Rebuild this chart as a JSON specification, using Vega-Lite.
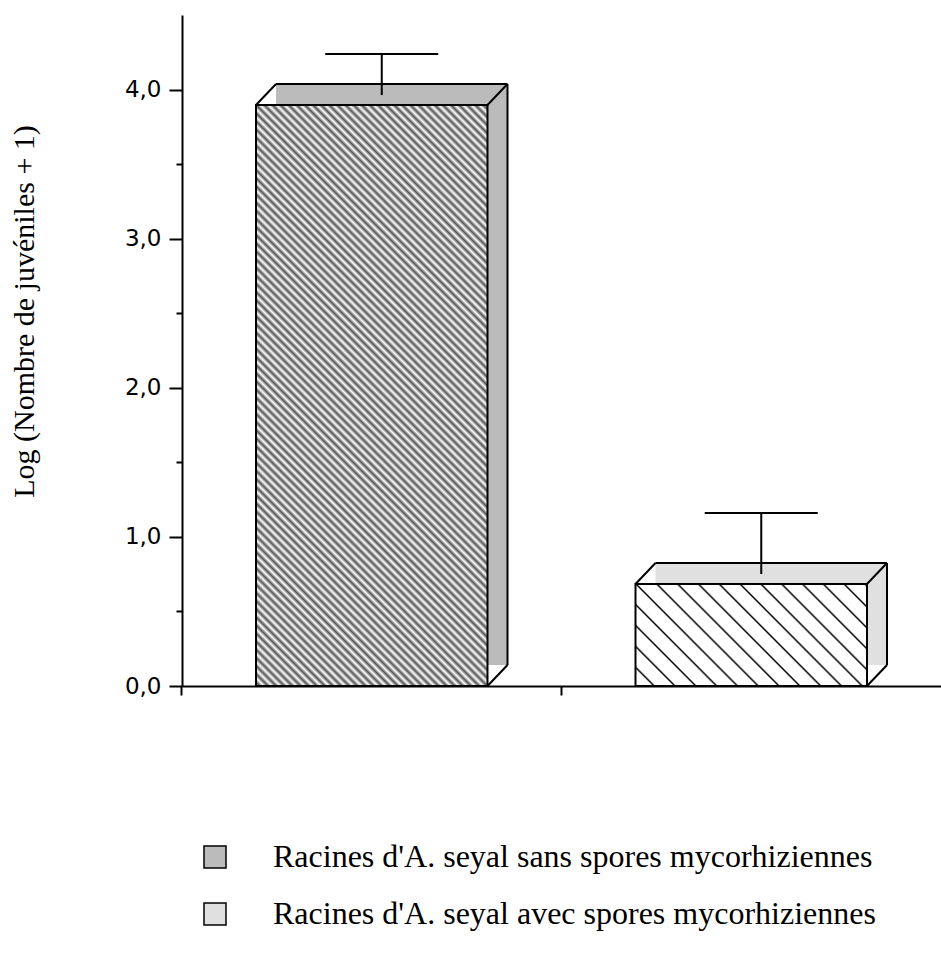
{
"$schema": "https://vega.github.io/schema/vega-lite/v6.json",
"width": 759, "height": 671,
"autosize": {"type": "none"},
"padding": {"left": 182, "top": 15, "right": 0, "bottom": 274},
"background": "white",
"data": {"values": [
 {"g": "sans", "legende": "Racines d'A. seyal sans  spores mycorhiziennes", "moyenne": 3.896, "sup": 4.171},
 {"g": "avec", "legende": "Racines d'A. seyal avec  spores mycorhiziennes", "moyenne": 0.684, "sup": 1.093}
]},
"encoding": {
 "x": {"field": "g", "type": "nominal", "title": null, "scale": {"domain": ["sans", "avec"], "paddingInner": 0.39, "paddingOuter": 0.195}},
 "y": {"field": "moyenne", "type": "quantitative", "scale": {"domain": [0, 4.5], "nice": false},
  "axis": {"title": "Log (Nombre de juvéniles + 1)", "values": [0, 0.5, 1, 1.5, 2, 2.5, 3, 3.5, 4],
   "labelExpr": "datum.value % 1 === 0 ? replace(format(datum.value, '.1f'), '.', ',') : ''",
   "tickSize": {"condition": {"test": "datum.value % 1 === 0", "value": 13}, "value": 6},
   "labelPadding": 8, "labelFont": "DejaVu Sans", "labelFontSize": 23, "labelColor": "black",
   "domainColor": "black", "domainWidth": 2, "tickColor": "black", "tickWidth": 2, "grid": false,
   "titleFont": "Liberation Serif", "titleFontSize": 30, "titleFontWeight": "normal", "titleColor": "black",
   "titleX": -158, "titleY": 296, "titleAngle": -90, "titleAlign": "center", "titleBaseline": "middle"}}
},
"layer": [
 {"mark": {"type": "bar", "xOffset": 20, "x2Offset": 20, "yOffset": -21, "y2Offset": -21},
  "encoding": {"fill": {"field": "legende", "type": "nominal",
   "scale": {"domain": ["Racines d'A. seyal sans  spores mycorhiziennes", "Racines d'A. seyal avec  spores mycorhiziennes"], "range": ["#bbbbbb", "#e0e0e0"]},
   "legend": {"orient": "none", "legendX": 17, "legendY": 826, "title": null, "symbolType": "square", "symbolSize": 484,
    "symbolStrokeColor": "black", "symbolStrokeWidth": 1.5, "labelFont": "Liberation Serif", "labelFontSize": 32,
    "labelColor": "black", "labelLimit": 900, "labelOffset": 42, "rowPadding": 25, "padding": 0}}}},
 {"mark": {"type": "rule", "xOffset": 20, "x2Offset": 20, "yOffset": -21, "color": "black", "strokeWidth": 2},
  "encoding": {"x": {"field": "g", "type": "nominal", "title": null, "bandPosition": 0}, "x2": {"field": "g", "bandPosition": 1}}},
 {"mark": {"type": "rule", "xOffset": 20, "yOffset": -21, "y2Offset": -21, "color": "black", "strokeWidth": 2},
  "encoding": {"x": {"field": "g", "type": "nominal", "title": null, "bandPosition": 1}, "y2": {"datum": 0}}},
 {"mark": {"type": "rule", "x2Offset": 20, "y2Offset": -21, "color": "black", "strokeWidth": 2},
  "encoding": {"x": {"field": "g", "type": "nominal", "title": null, "bandPosition": 1}, "x2": {"field": "g", "bandPosition": 1}, "y2": {"field": "moyenne"}}},
 {"mark": {"type": "rule", "x2Offset": 20, "y2Offset": -21, "color": "black", "strokeWidth": 2},
  "encoding": {"x": {"field": "g", "type": "nominal", "title": null, "bandPosition": 1}, "x2": {"field": "g", "bandPosition": 1}, "y": {"datum": 0}, "y2": {"datum": 0}}},
 {"transform": [{"filter": "datum.g === 'sans'"}],
  "mark": {"type": "bar", "stroke": "black", "strokeWidth": 2,
   "fill": {"gradient": "linear", "x1": 0, "y1": 1, "x2": 0.4817, "y2": -0.2069, "stops": [
{"offset":0,"color":"#fff"},{"offset":0.005,"color":"#555"},{"offset":0.01,"color":"#fff"},{"offset":0.015,"color":"#555"},{"offset":0.02,"color":"#fff"},{"offset":0.025,"color":"#555"},{"offset":0.03,"color":"#fff"},{"offset":0.035,"color":"#555"},{"offset":0.04,"color":"#fff"},{"offset":0.045,"color":"#555"},
{"offset":0.05,"color":"#fff"},{"offset":0.055,"color":"#555"},{"offset":0.06,"color":"#fff"},{"offset":0.065,"color":"#555"},{"offset":0.07,"color":"#fff"},{"offset":0.075,"color":"#555"},{"offset":0.08,"color":"#fff"},{"offset":0.085,"color":"#555"},{"offset":0.09,"color":"#fff"},{"offset":0.095,"color":"#555"},
{"offset":0.1,"color":"#fff"},{"offset":0.105,"color":"#555"},{"offset":0.11,"color":"#fff"},{"offset":0.115,"color":"#555"},{"offset":0.12,"color":"#fff"},{"offset":0.125,"color":"#555"},{"offset":0.13,"color":"#fff"},{"offset":0.135,"color":"#555"},{"offset":0.14,"color":"#fff"},{"offset":0.145,"color":"#555"},
{"offset":0.15,"color":"#fff"},{"offset":0.155,"color":"#555"},{"offset":0.16,"color":"#fff"},{"offset":0.165,"color":"#555"},{"offset":0.17,"color":"#fff"},{"offset":0.175,"color":"#555"},{"offset":0.18,"color":"#fff"},{"offset":0.185,"color":"#555"},{"offset":0.19,"color":"#fff"},{"offset":0.195,"color":"#555"},
{"offset":0.2,"color":"#fff"},{"offset":0.205,"color":"#555"},{"offset":0.21,"color":"#fff"},{"offset":0.215,"color":"#555"},{"offset":0.22,"color":"#fff"},{"offset":0.225,"color":"#555"},{"offset":0.23,"color":"#fff"},{"offset":0.235,"color":"#555"},{"offset":0.24,"color":"#fff"},{"offset":0.245,"color":"#555"},
{"offset":0.25,"color":"#fff"},{"offset":0.255,"color":"#555"},{"offset":0.26,"color":"#fff"},{"offset":0.265,"color":"#555"},{"offset":0.27,"color":"#fff"},{"offset":0.275,"color":"#555"},{"offset":0.28,"color":"#fff"},{"offset":0.285,"color":"#555"},{"offset":0.29,"color":"#fff"},{"offset":0.295,"color":"#555"},
{"offset":0.3,"color":"#fff"},{"offset":0.305,"color":"#555"},{"offset":0.31,"color":"#fff"},{"offset":0.315,"color":"#555"},{"offset":0.32,"color":"#fff"},{"offset":0.325,"color":"#555"},{"offset":0.33,"color":"#fff"},{"offset":0.335,"color":"#555"},{"offset":0.34,"color":"#fff"},{"offset":0.345,"color":"#555"},
{"offset":0.35,"color":"#fff"},{"offset":0.355,"color":"#555"},{"offset":0.36,"color":"#fff"},{"offset":0.365,"color":"#555"},{"offset":0.37,"color":"#fff"},{"offset":0.375,"color":"#555"},{"offset":0.38,"color":"#fff"},{"offset":0.385,"color":"#555"},{"offset":0.39,"color":"#fff"},{"offset":0.395,"color":"#555"},
{"offset":0.4,"color":"#fff"},{"offset":0.405,"color":"#555"},{"offset":0.41,"color":"#fff"},{"offset":0.415,"color":"#555"},{"offset":0.42,"color":"#fff"},{"offset":0.425,"color":"#555"},{"offset":0.43,"color":"#fff"},{"offset":0.435,"color":"#555"},{"offset":0.44,"color":"#fff"},{"offset":0.445,"color":"#555"},
{"offset":0.45,"color":"#fff"},{"offset":0.455,"color":"#555"},{"offset":0.46,"color":"#fff"},{"offset":0.465,"color":"#555"},{"offset":0.47,"color":"#fff"},{"offset":0.475,"color":"#555"},{"offset":0.48,"color":"#fff"},{"offset":0.485,"color":"#555"},{"offset":0.49,"color":"#fff"},{"offset":0.495,"color":"#555"},
{"offset":0.5,"color":"#fff"},{"offset":0.505,"color":"#555"},{"offset":0.51,"color":"#fff"},{"offset":0.515,"color":"#555"},{"offset":0.52,"color":"#fff"},{"offset":0.525,"color":"#555"},{"offset":0.53,"color":"#fff"},{"offset":0.535,"color":"#555"},{"offset":0.54,"color":"#fff"},{"offset":0.545,"color":"#555"},
{"offset":0.55,"color":"#fff"},{"offset":0.555,"color":"#555"},{"offset":0.56,"color":"#fff"},{"offset":0.565,"color":"#555"},{"offset":0.57,"color":"#fff"},{"offset":0.575,"color":"#555"},{"offset":0.58,"color":"#fff"},{"offset":0.585,"color":"#555"},{"offset":0.59,"color":"#fff"},{"offset":0.595,"color":"#555"},
{"offset":0.6,"color":"#fff"},{"offset":0.605,"color":"#555"},{"offset":0.61,"color":"#fff"},{"offset":0.615,"color":"#555"},{"offset":0.62,"color":"#fff"},{"offset":0.625,"color":"#555"},{"offset":0.63,"color":"#fff"},{"offset":0.635,"color":"#555"},{"offset":0.64,"color":"#fff"},{"offset":0.645,"color":"#555"},
{"offset":0.65,"color":"#fff"},{"offset":0.655,"color":"#555"},{"offset":0.66,"color":"#fff"},{"offset":0.665,"color":"#555"},{"offset":0.67,"color":"#fff"},{"offset":0.675,"color":"#555"},{"offset":0.68,"color":"#fff"},{"offset":0.685,"color":"#555"},{"offset":0.69,"color":"#fff"},{"offset":0.695,"color":"#555"},
{"offset":0.7,"color":"#fff"},{"offset":0.705,"color":"#555"},{"offset":0.71,"color":"#fff"},{"offset":0.715,"color":"#555"},{"offset":0.72,"color":"#fff"},{"offset":0.725,"color":"#555"},{"offset":0.73,"color":"#fff"},{"offset":0.735,"color":"#555"},{"offset":0.74,"color":"#fff"},{"offset":0.745,"color":"#555"},
{"offset":0.75,"color":"#fff"},{"offset":0.755,"color":"#555"},{"offset":0.76,"color":"#fff"},{"offset":0.765,"color":"#555"},{"offset":0.77,"color":"#fff"},{"offset":0.775,"color":"#555"},{"offset":0.78,"color":"#fff"},{"offset":0.785,"color":"#555"},{"offset":0.79,"color":"#fff"},{"offset":0.795,"color":"#555"},
{"offset":0.8,"color":"#fff"},{"offset":0.805,"color":"#555"},{"offset":0.81,"color":"#fff"},{"offset":0.815,"color":"#555"},{"offset":0.82,"color":"#fff"},{"offset":0.825,"color":"#555"},{"offset":0.83,"color":"#fff"},{"offset":0.835,"color":"#555"},{"offset":0.84,"color":"#fff"},{"offset":0.845,"color":"#555"},
{"offset":0.85,"color":"#fff"},{"offset":0.855,"color":"#555"},{"offset":0.86,"color":"#fff"},{"offset":0.865,"color":"#555"},{"offset":0.87,"color":"#fff"},{"offset":0.875,"color":"#555"},{"offset":0.88,"color":"#fff"},{"offset":0.885,"color":"#555"},{"offset":0.89,"color":"#fff"},{"offset":0.895,"color":"#555"},
{"offset":0.9,"color":"#fff"},{"offset":0.905,"color":"#555"},{"offset":0.91,"color":"#fff"},{"offset":0.915,"color":"#555"},{"offset":0.92,"color":"#fff"},{"offset":0.925,"color":"#555"},{"offset":0.93,"color":"#fff"},{"offset":0.935,"color":"#555"},{"offset":0.94,"color":"#fff"},{"offset":0.945,"color":"#555"},
{"offset":0.95,"color":"#fff"},{"offset":0.955,"color":"#555"},{"offset":0.96,"color":"#fff"},{"offset":0.965,"color":"#555"},{"offset":0.97,"color":"#fff"},{"offset":0.975,"color":"#555"},{"offset":0.98,"color":"#fff"},{"offset":0.985,"color":"#555"},{"offset":0.99,"color":"#fff"},{"offset":0.995,"color":"#555"},
{"offset":1,"color":"#fff"}]}}},
 {"transform": [{"filter": "datum.g === 'avec'"}],
  "mark": {"type": "bar", "stroke": "black", "strokeWidth": 2,
   "fill": {"gradient": "linear", "x1": 0, "y1": 1, "x2": 1.2065, "y2": 0.4715, "stops": [
{"offset":0,"color":"#fff"},{"offset":0.05,"color":"#fff"},{"offset":0.05625,"color":"#000"},
{"offset":0.0625,"color":"#fff"},{"offset":0.1125,"color":"#fff"},{"offset":0.11875,"color":"#000"},
{"offset":0.125,"color":"#fff"},{"offset":0.175,"color":"#fff"},{"offset":0.18125,"color":"#000"},
{"offset":0.1875,"color":"#fff"},{"offset":0.2375,"color":"#fff"},{"offset":0.24375,"color":"#000"},
{"offset":0.25,"color":"#fff"},{"offset":0.3,"color":"#fff"},{"offset":0.30625,"color":"#000"},
{"offset":0.3125,"color":"#fff"},{"offset":0.3625,"color":"#fff"},{"offset":0.36875,"color":"#000"},
{"offset":0.375,"color":"#fff"},{"offset":0.425,"color":"#fff"},{"offset":0.43125,"color":"#000"},
{"offset":0.4375,"color":"#fff"},{"offset":0.4875,"color":"#fff"},{"offset":0.49375,"color":"#000"},
{"offset":0.5,"color":"#fff"},{"offset":0.55,"color":"#fff"},{"offset":0.55625,"color":"#000"},
{"offset":0.5625,"color":"#fff"},{"offset":0.6125,"color":"#fff"},{"offset":0.61875,"color":"#000"},
{"offset":0.625,"color":"#fff"},{"offset":0.675,"color":"#fff"},{"offset":0.68125,"color":"#000"},
{"offset":0.6875,"color":"#fff"},{"offset":0.7375,"color":"#fff"},{"offset":0.74375,"color":"#000"},
{"offset":0.75,"color":"#fff"},{"offset":0.8,"color":"#fff"},{"offset":0.80625,"color":"#000"},
{"offset":0.8125,"color":"#fff"},{"offset":0.8625,"color":"#fff"},{"offset":0.86875,"color":"#000"},
{"offset":0.875,"color":"#fff"},{"offset":0.925,"color":"#fff"},{"offset":0.93125,"color":"#000"},
{"offset":0.9375,"color":"#fff"},{"offset":0.9875,"color":"#fff"},{"offset":0.99375,"color":"#000"},
{"offset":1,"color":"#fff"}]}}},
 {"mark": {"type": "rule", "x2Offset": 20, "y2Offset": -21, "color": "black", "strokeWidth": 2},
  "encoding": {"x": {"field": "g", "type": "nominal", "title": null, "bandPosition": 0}, "x2": {"field": "g", "bandPosition": 0}, "y2": {"field": "moyenne"}}},
 {"mark": {"type": "rule", "xOffset": 10, "yOffset": -10, "y2Offset": -10, "color": "black", "strokeWidth": 2},
  "encoding": {"y2": {"field": "sup"}}},
 {"mark": {"type": "tick", "orient": "horizontal", "size": 113, "thickness": 2, "xOffset": 10, "yOffset": -10, "color": "black", "opacity": 1},
  "encoding": {"y": {"field": "sup", "type": "quantitative"}}}
],
"config": {
 "view": {"stroke": null},
 "axis": {"grid": false},
 "axisX": {"labels": false, "values": ["avec"], "bandPosition": -0.32, "tickSize": 9, "domainColor": "black", "domainWidth": 2, "tickColor": "black", "tickWidth": 2}
}
}
